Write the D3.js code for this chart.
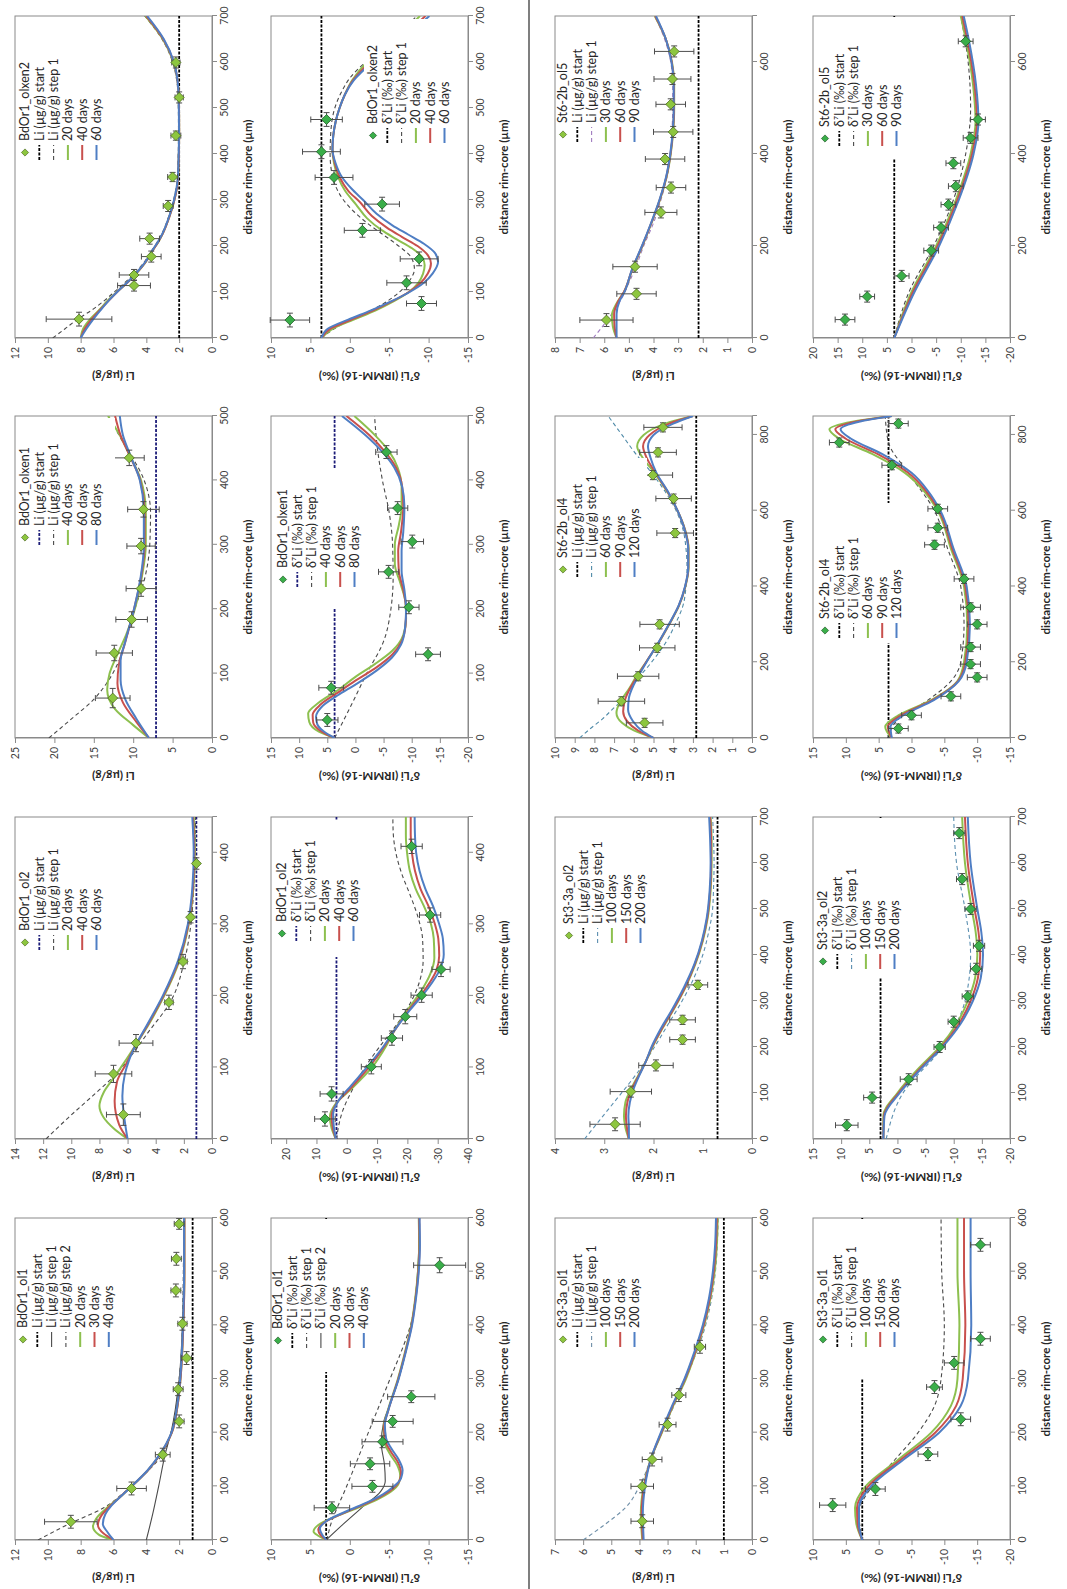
<!DOCTYPE html>
<html><head><meta charset="utf-8">
<script src="https://cdn.jsdelivr.net/npm/d3@7"></script>
<style>
body{margin:0;background:#fff}
text{font-family:Lato,"Liberation Sans",sans-serif}
</style>
</head><body>
<script>
// ---- measured points: [distance µm, value, value error, distance error] ----
// ---- model profiles: [distance µm, value] ----

// BdOr1_ol1 Li
const ol1LiPts = [[34,8.6,1.6,12],[96,4.9,0.9,12],[159,3.0,0.45,12],[221,2.0,0.3,12],[281,2.06,0.3,12],[339,1.55,0.3,12],[403,1.8,0.28,12],[465,2.2,0.3,12],[524,2.17,0.3,12],[589,2.0,0.3,10]];
const ol1LiStart = [[0,1.18],[600,1.18]];
const ol1LiStep1 = [[0,4.0],[50,3.6],[100,3.25],[160,2.85],[200,2.5],[300,2.0],[400,1.8],[500,1.72],[600,1.7]];
const ol1LiStep2 = [[0,10.6],[30,8.7],[60,6.6],[90,5.3],[120,4.2],[160,3.0],[200,2.5],[300,2.0],[400,1.8],[600,1.72]];
const ol1Li20 = [[0,6.0],[10,6.9],[25,7.25],[40,7.05],[60,6.4],[80,5.6],[100,4.9],[130,3.9],[160,3.15],[200,2.45],[250,2.1],[300,1.92],[400,1.75],[500,1.68],[600,1.68]];
const ol1Li30 = [[0,6.0],[12,6.6],[28,6.95],[45,6.75],[62,6.25],[80,5.6],[100,4.9],[130,3.9],[160,3.15],[200,2.45],[250,2.1],[300,1.92],[400,1.75],[500,1.68],[600,1.68]];
const ol1Li40 = [[0,6.0],[14,6.35],[30,6.65],[48,6.5],[65,6.1],[80,5.6],[100,4.9],[130,3.92],[160,3.17],[200,2.47],[250,2.12],[300,1.94],[400,1.77],[500,1.7],[600,1.7]];

// BdOr1_ol2 Li
const ol2LiPts = [[34,6.3,1.2,15],[91,7.0,1.3,12],[134,5.4,1.2,12],[191,3.06,0.3,10],[248,2.06,0.3,10],[310,1.52,0.15,8],[385,1.11,0.12,8]];
const ol2LiStart = [[0,1.11],[450,1.11]];
const ol2LiStep1 = [[0,11.8],[30,10.2],[60,8.5],[90,6.85],[120,5.6],[150,4.5],[190,3.0],[250,1.95],[300,1.5],[350,1.3],[400,1.2],[450,1.18]];
const ol2Li20 = [[0,6.0],[15,7.0],[30,7.7],[46,8.0],[65,7.7],[85,7.0],[105,6.3],[132,5.4],[160,4.5],[200,3.4],[250,2.3],[300,1.65],[350,1.33],[400,1.22],[450,1.3]];
const ol2Li40 = [[0,6.0],[20,6.6],[53,6.92],[80,6.75],[105,6.1],[132,5.4],[160,4.55],[200,3.45],[250,2.35],[300,1.68],[350,1.36],[400,1.26],[450,1.35]];
const ol2Li60 = [[0,6.0],[25,6.2],[60,6.37],[90,6.2],[110,5.9],[132,5.4],[160,4.6],[200,3.5],[250,2.4],[300,1.72],[350,1.4],[400,1.3],[450,1.4]];

// BdOr1_olxen1 Li
const xen1LiPts = [[62,12.6,2.2,15],[132,12.4,2.3,12],[184,10.2,2.0,12],[232,9.0,1.9,12],[298,9.0,1.8,12],[355,8.7,2.0,12],[435,10.5,1.9,12]];
const xen1LiStart = [[0,7.1],[500,7.1]];
const xen1LiStep1 = [[0,20.7],[30,17.8],[60,15.0],[90,13.1],[120,11.8],[150,11.0],[200,9.8],[250,8.5],[300,7.9],[350,7.8],[400,8.6],[440,10.3],[470,11.8],[500,13.0]];
const xen1Li40 = [[0,8.0],[20,10.0],[45,12.3],[75,13.3],[100,13.0],[130,12.0],[160,10.9],[200,9.8],[250,8.9],[300,8.4],[350,8.4],[400,9.0],[440,10.5],[470,11.7],[500,13.2]];
const xen1Li60 = [[0,8.0],[25,9.6],[55,11.3],[85,12.0],[115,11.8],[145,11.1],[200,9.9],[250,9.0],[300,8.55],[350,8.55],[400,9.1],[440,10.5],[470,11.6],[500,12.3]];
const xen1Li80 = [[0,8.0],[30,9.6],[60,11.0],[90,11.6],[120,11.6],[150,11.0],[200,9.9],[250,9.05],[300,8.65],[350,8.65],[400,9.15],[440,10.4],[470,11.3],[500,11.7]];

// BdOr1_olxen2 Li
const xen2LiPts = [[41,8.1,2.0,15],[114,4.75,1.0,12],[137,4.75,0.9,12],[177,3.7,0.6,12],[216,3.8,0.6,12],[287,2.67,0.3,12],[350,2.4,0.3,10],[440,2.2,0.3,10],[523,2.0,0.25,12],[599,2.2,0.25,12]];
const xen2LiStart = [[0,2.0],[700,2.0]];
const xen2LiStep1 = [[0,9.7],[20,8.95],[43,8.1],[60,7.35],[83,6.5],[100,5.95],[119,5.35],[155,4.35],[191,3.65],[227,3.05],[263,2.65],[299,2.35],[335,2.15],[372,2.08],[450,2.04],[520,2.06],[560,2.15],[600,2.4],[650,3.05],[700,4.1]];
const xen2Li20 = [[0,8.0],[20,7.85],[40,7.45],[60,6.9],[83,6.3],[100,5.8],[119,5.2],[137,4.7],[155,4.25],[175,3.85],[191,3.6],[210,3.25],[227,3.0],[263,2.6],[299,2.3],[335,2.1],[372,2.04],[450,2.0],[520,2.02],[560,2.1],[600,2.35],[650,3.0],[700,4.05]];
const xen2Li40 = [[0,8.0],[20,7.75],[40,7.35],[60,6.85],[83,6.25],[100,5.78],[119,5.2],[137,4.7],[155,4.26],[175,3.86],[191,3.6],[210,3.26],[227,3.0],[263,2.6],[299,2.3],[335,2.1],[372,2.04],[450,2.0],[520,2.02],[560,2.1],[600,2.33],[650,2.97],[700,4.0]];
const xen2Li60 = [[0,8.0],[20,7.65],[40,7.25],[60,6.8],[83,6.25],[100,5.78],[119,5.22],[137,4.72],[155,4.28],[175,3.88],[191,3.62],[210,3.28],[227,3.02],[263,2.62],[299,2.32],[335,2.12],[372,2.05],[450,2.01],[520,2.03],[560,2.1],[600,2.32],[650,2.94],[700,3.95]];

// BdOr1_ol1 d7Li
const ol1DPts = [[60,2.27,2.25,11],[100,-2.87,2.6,11],[142,-2.57,2.5,11],[183,-4.15,2.6,11],[221,-5.44,2.6,11],[267,-7.8,3.0,11],[512,-11.4,3.3,14]];
const ol1DStart = [[0,3.0],[600,3.0]];
const ol1DStep1 = [[0,2.9],[25,2.5],[100,0.4],[200,-2.35],[300,-5.1],[350,-6.5],[400,-7.7],[450,-8.35],[500,-8.65],[550,-8.8],[600,-8.86]];
const ol1DStep2 = [[0,3.0],[30,0.8],[60,-1.5],[90,-3.9],[110,-4.5],[140,-4.4],[180,-4.0],[220,-4.3],[260,-5.3],[300,-6.2],[350,-7.1],[400,-7.8],[450,-8.3],[500,-8.6],[550,-8.75],[600,-8.75]];
const ol1D20 = [[0,3.0],[8,4.0],[16,4.6],[28,4.0],[45,1.6],[60,-1.0],[75,-3.4],[90,-5.2],[105,-6.2],[120,-6.4],[140,-6.0],[160,-5.1],[183,-4.4],[210,-4.3],[240,-4.8],[300,-6.1],[350,-7.0],[400,-7.8],[450,-8.3],[500,-8.65],[550,-8.8],[600,-8.75]];
const ol1D30 = [[0,3.0],[9,3.7],[19,4.0],[32,3.3],[50,0.8],[65,-1.6],[80,-3.8],[95,-5.4],[110,-6.3],[125,-6.5],[145,-6.1],[165,-5.2],[185,-4.5],[210,-4.35],[240,-4.85],[300,-6.15],[350,-7.05],[400,-7.85],[450,-8.35],[500,-8.7],[550,-8.85],[600,-8.8]];
const ol1D40 = [[0,3.0],[10,3.5],[21,3.8],[35,3.0],[55,0.2],[70,-2.2],[85,-4.2],[100,-5.6],[115,-6.5],[130,-6.7],[150,-6.2],[170,-5.3],[190,-4.6],[215,-4.45],[245,-4.95],[300,-6.2],[350,-7.1],[400,-7.9],[450,-8.4],[500,-8.75],[550,-8.9],[600,-8.85]];

// BdOr1_ol2 d7Li
const ol2DPts = [[28,7.2,3.4,10],[63,5.0,3.8,10],[101,-8.1,3.3,10],[141,-14.9,3.5,10],[171,-19.3,3.8,10],[201,-24.7,3.5,10],[237,-31.1,3.0,10],[313,-27.5,3.5,10],[409,-21.4,3.5,10]];
const ol2DStart = [[0,3.4],[450,3.4]];
const ol2DStep1 = [[0,3.4],[40,1.3],[70,-2.0],[100,-6.0],[130,-11.0],[160,-16.5],[190,-21.0],[220,-24.0],[250,-25.2],[280,-25.0],[310,-23.5],[340,-21.0],[370,-18.2],[400,-16.2],[430,-15.3],[450,-15.2]];
const ol2D20 = [[0,3.6],[15,5.0],[30,5.6],[50,3.5],[70,-1.5],[100,-8.3],[130,-13.0],[150,-15.5],[180,-20.0],[210,-25.0],[230,-27.5],[253,-28.9],[280,-28.7],[300,-27.8],[325,-25.5],[350,-22.7],[375,-20.8],[400,-19.9],[425,-19.5],[450,-19.5]];
const ol2D40 = [[0,3.6],[15,4.6],[32,5.0],[52,3.0],[72,-1.5],[100,-7.3],[130,-12.5],[150,-15.5],[180,-20.5],[210,-26.0],[235,-29.5],[256,-30.5],[280,-30.2],[300,-29.1],[325,-27.0],[350,-24.3],[375,-22.5],[400,-21.5],[425,-21.1],[450,-21.1]];
const ol2D60 = [[0,3.6],[18,4.3],[35,4.5],[55,2.5],[75,-1.5],[100,-6.6],[130,-12.2],[150,-15.4],[180,-20.8],[210,-26.7],[235,-30.5],[258,-32.0],[280,-31.7],[300,-30.5],[325,-28.5],[350,-25.9],[375,-24.0],[400,-22.9],[425,-22.5],[450,-22.4]];

// BdOr1_olxen1 d7Li
const xen1DPts = [[28,5.0,1.9,10],[78,4.3,2.2,10],[130,-12.9,2.2,10],[203,-9.5,1.8,10],[258,-5.9,1.8,10],[305,-10.1,2.0,10],[357,-7.5,1.8,10],[444,-5.5,1.9,10]];
const xen1DStart = [[0,3.7],[500,3.7]];
const xen1DStep1 = [[0,3.7],[50,0.8],[100,-2.0],[150,-5.0],[200,-6.3],[250,-6.7],[300,-6.6],[350,-6.0],[400,-4.8],[450,-3.9],[500,-3.4]];
const xen1D40 = [[0,3.7],[10,6.5],[25,8.2],[38,8.4],[55,6.5],[75,3.0],[95,0],[115,-3.5],[135,-6.5],[160,-8.5],[185,-9.0],[210,-8.9],[240,-8.0],[270,-7.0],[300,-7.0],[330,-7.7],[360,-8.2],[390,-8.2],[420,-7.5],[445,-6.0],[470,-3.5],[500,0.2]];
const xen1D60 = [[0,3.7],[10,6.0],[24,7.5],[36,7.6],[52,6.2],[70,3.2],[89,0],[110,-3.8],[130,-6.6],[150,-8.2],[175,-8.9],[200,-9.0],[230,-8.5],[260,-7.7],[290,-7.6],[320,-8.1],[360,-8.5],[390,-8.3],[420,-7.2],[445,-5.2],[470,-2.5],[500,1.6]];
const xen1D80 = [[0,3.7],[10,5.6],[22,6.8],[33,7.0],[50,5.8],[66,3.2],[83,0],[105,-3.8],[125,-6.5],[145,-8.1],[170,-8.8],[200,-9.0],[230,-8.7],[260,-8.2],[290,-8.2],[320,-8.5],[360,-8.7],[390,-8.3],[420,-6.9],[445,-4.7],[470,-1.8],[500,2.4]];

// BdOr1_olxen2 d7Li
const xen2DPts = [[39,7.6,2.5,15],[75,-9.1,1.9,15],[120,-7.2,2.5,15],[172,-8.8,2.4,15],[234,-1.6,2.3,15],[291,-4.1,2.2,15],[349,2.0,2.4,15],[405,3.6,2.4,15],[475,2.95,2.0,15]];
const xen2DStart = [[0,3.6],[700,3.6]];
const xen2DStep1 = [[0,3.6],[25,1.5],[50,-1.5],[75,-4.3],[100,-6.3],[125,-7.6],[150,-8.2],[175,-7.8],[200,-6.2],[225,-4.2],[250,-2.2],[275,-0.5],[300,0.8],[330,1.8],[360,2.3],[400,2.5],[450,2.4],[500,1.9],[540,0.9],[565,0.0],[600,-2.0],[650,-5.5],[700,-8.5]];
const xen2D20 = [[0,3.6],[20,2.2],[40,-0.5],[60,-3.3],[80,-5.6],[100,-7.5],[120,-8.7],[140,-9.3],[158,-9.5],[175,-9.2],[195,-7.9],[215,-5.9],[235,-4.0],[260,-2.2],[290,-0.8],[320,0.6],[350,1.5],[380,2.0],[410,2.2],[440,2.1],[470,1.8],[500,1.3],[530,0.6],[560,-0.3],[600,-2.2],[650,-5.8],[700,-8.9]];
const xen2D40 = [[0,3.6],[20,2.5],[40,-0.2],[60,-3.0],[80,-5.4],[100,-7.5],[120,-9.0],[140,-9.9],[162,-10.3],[180,-9.9],[200,-8.6],[220,-6.6],[240,-4.7],[265,-2.8],[295,-1.3],[320,0.2],[350,1.3],[380,1.9],[410,2.2],[440,2.1],[470,1.8],[500,1.3],[530,0.6],[560,-0.4],[600,-2.6],[650,-6.3],[700,-9.6]];
const xen2D60 = [[0,3.6],[20,2.8],[40,0.2],[60,-2.7],[80,-5.3],[100,-7.6],[120,-9.4],[140,-10.5],[165,-11.2],[185,-10.8],[205,-9.4],[225,-7.4],[245,-5.4],[270,-3.4],[300,-1.7],[325,-0.2],[350,1.0],[380,1.8],[410,2.2],[440,2.1],[470,1.8],[500,1.3],[530,0.6],[560,-0.5],[600,-2.9],[650,-6.7],[700,-10.1]];

// St3-3a_ol1 Li
const st1LiPts = [[35,3.9,0.4,12],[100,3.9,0.4,12],[150,3.55,0.35,12],[215,3.0,0.3,12],[270,2.6,0.25,12],[360,1.85,0.2,12]];
const st1LiStart = [[0,1.0],[600,1.0]];
const st1LiStep1 = [[0,6.0],[30,5.2],[60,4.5],[100,4.0],[150,3.6],[200,3.2],[300,2.35],[400,1.65],[500,1.3],[600,1.2]];
const st1Li100 = [[0,3.9],[50,3.95],[100,3.85],[150,3.6],[200,3.2],[250,2.8],[300,2.35],[350,2.0],[400,1.7],[450,1.48],[500,1.33],[550,1.25],[600,1.22]];
const st1Li150 = [[0,3.88],[50,3.92],[100,3.83],[150,3.6],[200,3.22],[250,2.82],[300,2.38],[350,2.02],[400,1.72],[450,1.5],[500,1.36],[550,1.28],[600,1.25]];
const st1Li200 = [[0,3.85],[50,3.88],[100,3.8],[150,3.6],[200,3.24],[250,2.84],[300,2.4],[350,2.05],[400,1.75],[450,1.53],[500,1.39],[550,1.31],[600,1.28]];

// St3-3a_ol2 Li
const st2LiPts = [[32,2.78,0.51,14],[103,2.46,0.42,12],[160,1.95,0.35,12],[216,1.41,0.26,10],[259,1.41,0.26,10],[335,1.1,0.2,10]];
const st2LiStart = [[0,0.7],[700,0.7]];
const st2LiStep1 = [[0,3.4],[40,3.1],[80,2.8],[120,2.5],[160,2.22],[200,1.98],[250,1.7],[300,1.42],[350,1.18],[400,1.0],[450,0.88],[500,0.8],[550,0.78],[600,0.77],[650,0.78],[700,0.8]];
const st2Li100 = [[0,2.5],[25,2.57],[50,2.6],[80,2.57],[110,2.45],[140,2.3],[170,2.15],[200,2.02],[240,1.82],[280,1.6],[330,1.35],[380,1.15],[430,1.0],[480,0.9],[540,0.84],[600,0.82],[650,0.82],[700,0.84]];
const st2Li150 = [[0,2.5],[25,2.54],[50,2.56],[80,2.53],[110,2.43],[140,2.29],[170,2.15],[200,2.03],[240,1.83],[280,1.61],[330,1.36],[380,1.16],[430,1.01],[480,0.91],[540,0.85],[600,0.83],[650,0.83],[700,0.85]];
const st2Li200 = [[0,2.5],[25,2.5],[50,2.51],[80,2.48],[110,2.4],[140,2.28],[170,2.15],[200,2.04],[240,1.85],[280,1.63],[330,1.38],[380,1.17],[430,1.02],[480,0.92],[540,0.86],[600,0.84],[650,0.85],[700,0.87]];

// St6-2b_ol4 Li
const st4LiPts = [[40,5.45,0.93,12],[97,6.63,1.18,12],[163,5.78,1.05,12],[238,4.81,0.9,12],[300,4.69,1.0,12],[541,3.9,0.93,12],[632,3.98,0.9,12],[694,5.03,1.0,12],[754,4.77,0.93,12],[820,4.52,0.97,12]];
const st4LiStart = [[0,2.83],[850,2.83]];
const st4LiStep1 = [[0,8.75],[25,8.2],[50,7.6],[75,7.1],[100,6.6],[150,5.9],[200,5.1],[250,4.4],[300,3.9],[350,3.5],[400,3.35],[450,3.3],[500,3.35],[550,3.5],[600,3.85],[650,4.4],[700,5.1],[750,5.9],[800,6.6],[850,7.3]];
const st4Li60 = [[0,5.0],[20,6.0],[40,6.6],[66,6.88],[95,6.7],[125,6.3],[160,5.9],[200,5.38],[250,4.75],[300,4.2],[350,3.7],[400,3.38],[450,3.22],[500,3.22],[550,3.4],[600,3.78],[650,4.3],[700,4.95],[740,5.55],[770,5.83],[800,5.5],[830,4.4],[850,3.0]];
const st4Li90 = [[0,5.0],[20,5.8],[45,6.35],[70,6.54],[100,6.45],[130,6.2],[160,5.85],[200,5.38],[250,4.76],[300,4.21],[350,3.71],[400,3.39],[450,3.23],[500,3.23],[550,3.41],[600,3.78],[650,4.28],[700,4.9],[740,5.35],[770,5.53],[800,5.2],[830,4.2],[850,3.0]];
const st4Li120 = [[0,5.0],[20,5.6],[45,6.05],[75,6.29],[105,6.25],[135,6.05],[165,5.75],[200,5.36],[250,4.77],[300,4.22],[350,3.72],[400,3.4],[450,3.24],[500,3.24],[550,3.42],[600,3.78],[650,4.26],[700,4.85],[740,5.15],[770,5.28],[800,5.0],[830,4.0],[850,3.0]];

// St6-2b_ol5 Li
const st5LiPts = [[39,5.91,1.08,14],[96,4.69,0.8,12],[155,4.75,0.9,12],[273,3.7,0.65,12],[327,3.29,0.6,12],[389,3.53,0.8,12],[448,3.2,0.8,12],[508,3.3,0.6,12],[563,3.23,0.75,12],[623,3.16,0.8,12]];
const st5LiStart = [[0,2.17],[700,2.17]];
const st5LiStep1 = [[0,6.45],[30,6.0],[60,5.6],[90,5.25],[120,5.0],[150,4.75],[200,4.4],[250,4.0],[300,3.7],[350,3.45],[400,3.3],[450,3.25],[500,3.22],[550,3.22],[600,3.3],[650,3.55],[700,3.95]];
const st5Li30 = [[0,5.5],[25,5.65],[49,5.69],[75,5.5],[100,5.2],[150,4.85],[200,4.45],[250,4.08],[300,3.74],[350,3.47],[400,3.3],[450,3.2],[500,3.16],[550,3.16],[600,3.25],[650,3.5],[700,3.95]];
const st5Li60 = [[0,5.5],[25,5.58],[52,5.6],[78,5.45],[100,5.2],[150,4.86],[200,4.46],[250,4.09],[300,3.75],[350,3.48],[400,3.31],[450,3.21],[500,3.17],[550,3.17],[600,3.26],[650,3.5],[700,3.93]];
const st5Li90 = [[0,5.5],[25,5.5],[52,5.5],[80,5.38],[100,5.18],[150,4.87],[200,4.47],[250,4.1],[300,3.76],[350,3.49],[400,3.32],[450,3.22],[500,3.18],[550,3.18],[600,3.27],[650,3.5],[700,3.9]];

// St3-3a_ol1 d7Li
const st1DPts = [[65,7.0,2.0,12],[95,0.5,1.5,12],[160,-7.5,1.5,12],[225,-12.5,1.5,12],[285,-8.5,1.2,12],[330,-11.5,1.5,12],[375,-15.5,1.5,12],[550,-15.5,1.5,12]];
const st1DStart = [[0,2.5],[600,2.5]];
const st1DStep1 = [[0,2.5],[50,3.0],[100,1.0],[150,-2.5],[200,-6.0],[250,-8.5],[300,-9.5],[400,-10.0],[500,-9.6],[600,-9.5]];
const st1D100 = [[0,2.5],[30,3.4],[60,3.6],[100,2.0],[150,-3.0],[200,-8.0],[250,-11.0],[300,-12.0],[400,-12.3],[500,-12.0],[600,-12.0]];
const st1D150 = [[0,2.5],[30,3.2],[60,3.3],[100,1.6],[150,-3.4],[200,-8.6],[250,-11.8],[300,-12.8],[400,-13.2],[500,-13.0],[600,-13.0]];
const st1D200 = [[0,2.5],[30,3.0],[60,3.0],[100,1.2],[150,-3.8],[200,-9.2],[250,-12.5],[300,-13.6],[400,-14.1],[500,-14.0],[600,-14.0]];

// St3-3a_ol2 d7Li
const st2DPts = [[30,9.0,2.0,12],[90,4.5,1.5,12],[130,-2.0,1.5,12],[200,-7.5,1.0,12],[255,-10.0,1.0,12],[310,-12.5,1.0,12],[370,-14.0,1.0,12],[420,-14.5,1.0,12],[500,-13.0,1.0,12],[565,-11.5,1.0,12],[665,-11.0,1.0,12]];
const st2DStart = [[0,3.0],[700,3.0]];
const st2DStep1 = [[0,2.0],[100,-1.0],[200,-8.0],[300,-12.0],[400,-13.0],[500,-12.0],[600,-10.5],[700,-10.0]];
const st2D100 = [[0,2.5],[50,2.5],[100,0],[150,-3.5],[200,-7.5],[250,-10.5],[300,-12.5],[350,-13.8],[400,-14.2],[450,-13.9],[500,-13.2],[600,-12.0],[700,-11.5]];
const st2D150 = [[0,2.5],[50,2.4],[100,-0.2],[150,-3.8],[200,-7.8],[250,-10.9],[300,-13.0],[350,-14.3],[400,-14.7],[450,-14.4],[500,-13.7],[600,-12.5],[700,-12.0]];
const st2D200 = [[0,2.5],[50,2.3],[100,-0.4],[150,-4.0],[200,-8.0],[250,-11.2],[300,-13.4],[350,-14.8],[400,-15.2],[450,-14.9],[500,-14.2],[600,-13.0],[700,-12.5]];

// St6-2b_ol4 d7Li
const st4DPts = [[25,2.0,1.5,12],[60,0,1.5,12],[110,-6.0,1.5,12],[160,-10.0,1.5,12],[195,-9.0,1.5,12],[240,-9.0,1.5,12],[300,-10.0,1.5,12],[345,-9.0,1.5,12],[420,-8.0,1.5,12],[510,-3.5,1.5,12],[555,-4.0,1.5,12],[605,-4.0,1.5,12],[720,3.0,1.5,12],[780,11.0,1.5,12],[830,2.0,1.5,12]];
const st4DStart = [[0,3.5],[850,3.5]];
const st4DStep1 = [[0,3.5],[50,2.0],[100,-2.5],[150,-6.0],[200,-7.5],[300,-8.0],[400,-7.5],[500,-5.5],[600,-3.5],[700,0.5],[780,3.5],[850,4.0]];
const st4D60 = [[0,3.0],[30,4.0],[60,2.0],[100,-3.0],[150,-7.0],[200,-8.0],[300,-8.5],[400,-8.0],[500,-6.0],[600,-4.0],[650,-2.0],[700,1.0],[750,6.0],[790,11.0],[815,12.5],[835,9.0],[850,3.0]];
const st4D90 = [[0,3.0],[30,3.6],[60,1.6],[100,-3.2],[150,-7.1],[200,-8.2],[300,-8.7],[400,-8.2],[500,-6.2],[600,-4.2],[650,-2.3],[700,0.5],[750,5.2],[790,10.0],[815,11.6],[835,8.5],[850,3.0]];
const st4D120 = [[0,3.0],[30,3.2],[60,1.2],[100,-3.4],[150,-7.2],[200,-8.4],[300,-8.9],[400,-8.4],[500,-6.4],[600,-4.4],[650,-2.6],[700,0.0],[750,4.5],[790,9.2],[815,10.8],[835,8.0],[850,3.0]];

// St6-2b_ol5 d7Li
const st5DPts = [[40,13.5,2.0,12],[90,9.0,1.5,12],[135,2.0,1.5,12],[190,-4.0,1.5,12],[240,-6.0,1.5,12],[290,-7.5,1.5,12],[330,-9.0,1.5,12],[380,-8.5,1.5,12],[435,-12.0,1.5,12],[475,-13.5,1.5,12],[645,-11.0,1.5,12]];
const st5DStart = [[0,3.5],[700,3.5]];
const st5DStep1 = [[0,3.5],[100,0.5],[200,-4.5],[300,-8.5],[400,-11.0],[500,-12.0],[600,-11.5],[700,-10.0]];
const st5D30 = [[0,3.5],[100,0],[200,-5.0],[300,-9.0],[400,-12.0],[470,-13.0],[550,-12.5],[650,-11.0],[700,-10.0]];
const st5D60 = [[0,3.5],[100,-0.3],[200,-5.3],[300,-9.3],[400,-12.3],[470,-13.3],[550,-12.8],[650,-11.3],[700,-10.3]];
const st5D90 = [[0,3.5],[100,-0.6],[200,-5.6],[300,-9.6],[400,-12.6],[470,-13.6],[550,-13.1],[650,-11.6],[700,-10.6]];

// ---- chart layout (landscape figure, turned a quarter turn for the page) ----
const PAGE_W = 1067, PAGE_H = 1589;
const W = 322, H = 197;
const COLX = [49, 450, 851, 1251];
const ROWY = [15, 271, 555, 813];
const GREEN = "#8DC04F", RED = "#C8504D", BLUE = "#4F7EC4";
const NAVY = "#1c1c78", DARK = "#4a4a4a";
const TICK_FONT = "10.5px", TITLE_FONT = "11.5px", LEGEND_FONT = "12.5px", LEGEND_ROW = 14.3;

const LI = "Li (µg/g)";
const DL = "δ⁷Li (‰)";

const panels = [
  {col:0,row:0,name:"BdOr1_ol1",kind:"Li",xMax:600,xStep:100,yMin:0,yMax:12,yStep:2,pts:ol1LiPts,start:ol1LiStart,startColor:"#000",
   steps:[{d:ol1LiStep1,dash:null,label:LI+" step 1"},{d:ol1LiStep2,dash:"4,3",label:LI+" step 2"}],
   curves:[ol1Li20,ol1Li30,ol1Li40],days:["20 days","30 days","40 days"],leg:{sx:193,ry:8,box:[186,1,320,112]}},
  {col:1,row:0,name:"BdOr1_ol2",kind:"Li",xMax:450,xStep:100,yMin:0,yMax:14,yStep:2,pts:ol2LiPts,start:ol2LiStart,startColor:NAVY,
   steps:[{d:ol2LiStep1,dash:"4,3",label:LI+" step 1"}],
   curves:[ol2Li20,ol2Li40,ol2Li60],days:["20 days","40 days","60 days"],leg:{sx:189,ry:10,box:[182,1,320,100]}},
  {col:2,row:0,name:"BdOr1_olxen1",kind:"Li",xMax:500,xStep:100,yMin:0,yMax:25,yStep:5,pts:xen1LiPts,start:xen1LiStart,startColor:NAVY,
   steps:[{d:xen1LiStep1,dash:"4,3",label:LI+" step 1"}],
   curves:[xen1Li40,xen1Li60,xen1Li80],days:["40 days","60 days","80 days"],leg:{sx:193,ry:10,box:[186,1,320,100]}},
  {col:3,row:0,name:"BdOr1_olxen2",kind:"Li",xMax:700,xStep:100,yMin:0,yMax:12,yStep:2,pts:xen2LiPts,start:xen2LiStart,startColor:"#000",
   steps:[{d:xen2LiStep1,dash:"4,3",label:LI+" step 1"}],
   curves:[xen2Li20,xen2Li40,xen2Li60],days:["20 days","40 days","60 days"],leg:{sx:178,ry:10,box:[172,1,300,100]}},

  {col:0,row:1,name:"BdOr1_ol1",kind:"D",xMax:600,xStep:100,yMin:-15,yMax:10,yStep:5,pts:ol1DPts,start:ol1DStart,startColor:"#000",
   steps:[{d:ol1DStep1,dash:"4,3",label:DL+" step 1"},{d:ol1DStep2,dash:null,label:DL+" step 2"}],
   curves:[ol1D20,ol1D30,ol1D40],days:["20 days","30 days","40 days"],leg:{sx:192,ry:7,box:[168,1,321,108]}},
  {col:1,row:1,name:"BdOr1_ol2",kind:"D",xMax:450,xStep:100,yMin:-40,yMax:25,yStep:10,pts:ol2DPts,start:ol2DStart,startColor:NAVY,
   steps:[{d:ol2DStep1,dash:"4,3",label:DL+" step 1"}],
   curves:[ol2D20,ol2D40,ol2D60],days:["20 days","40 days","60 days"],leg:{sx:198,ry:11,box:[182,1,318,96]}},
  {col:2,row:1,name:"BdOr1_olxen1",kind:"D",xMax:500,xStep:100,yMin:-20,yMax:15,yStep:5,pts:xen1DPts,start:xen1DStart,startColor:NAVY,
   steps:[{d:xen1DStep1,dash:"4,3",label:DL+" step 1"}],
   curves:[xen1D40,xen1D60,xen1D80],days:["40 days","60 days","80 days"],leg:{sx:151,ry:12,box:[129,1,270,96]}},
  {col:3,row:1,name:"BdOr1_olxen2",kind:"D",xMax:700,xStep:100,yMin:-15,yMax:10,yStep:5,pts:xen2DPts,start:xen2DStart,startColor:"#000",
   steps:[{d:xen2DStep1,dash:"4,3",label:DL+" step 1"}],
   curves:[xen2D20,xen2D40,xen2D60],days:["20 days","40 days","60 days"],leg:{sx:195,ry:102,box:[188,93,319,182]}},

  {col:0,row:2,name:"St3-3a_ol1",kind:"Li",xMax:600,xStep:100,yMin:0,yMax:7,yStep:1,pts:st1LiPts,start:st1LiStart,startColor:"#000",
   steps:[{d:st1LiStep1,dash:"4,3",label:LI+" step 1",color:"#6f8fa8"}],
   curves:[st1Li100,st1Li150,st1Li200],days:["100 days","150 days","200 days"],leg:{sx:193,ry:8,box:[186,1,320,100]}},
  {col:1,row:2,name:"St3-3a_ol2",kind:"Li",xMax:700,xStep:100,yMin:0,yMax:4,yStep:1,pts:st2LiPts,start:st2LiStart,startColor:"#000",
   steps:[{d:st2LiStep1,dash:"4,3",label:LI+" step 1",color:"#5b8fb0"}],
   curves:[st2Li100,st2Li150,st2Li200],days:["100 days","150 days","200 days"],leg:{sx:196,ry:14,box:[190,4,320,104]}},
  {col:2,row:2,name:"St6-2b_ol4",kind:"Li",xMax:850,xStep:200,yMin:0,yMax:10,yStep:1,pts:st4LiPts,start:st4LiStart,startColor:"#000",
   steps:[{d:st4LiStep1,dash:"4,3",label:LI+" step 1",color:"#4f8aa8"}],
   curves:[st4Li60,st4Li90,st4Li120],days:["60 days","90 days","120 days"],leg:{sx:161,ry:8,box:[155,1,280,92]}},
  {col:3,row:2,name:"St6-2b_ol5",kind:"Li",xMax:700,xStep:200,yMin:0,yMax:8,yStep:1,pts:st5LiPts,start:st5LiStart,startColor:"#000",
   steps:[{d:st5LiStep1,dash:"4,3",label:LI+" step 1",color:"#a07cc0"}],
   curves:[st5Li30,st5Li60,st5Li90],days:["30 days","60 days","90 days"],leg:{sx:196,ry:8,box:[190,1,320,92]}},

  {col:0,row:3,name:"St3-3a_ol1",kind:"D",xMax:600,xStep:100,yMin:-20,yMax:10,yStep:5,pts:st1DPts,start:st1DStart,startColor:"#000",
   steps:[{d:st1DStep1,dash:"4,3",label:DL+" step 1"}],
   curves:[st1D100,st1D150,st1D200],days:["100 days","150 days","200 days"],leg:{sx:193,ry:10,box:[162,1,321,100]}},
  {col:1,row:3,name:"St3-3a_ol2",kind:"D",xMax:700,xStep:100,yMin:-20,yMax:15,yStep:5,pts:st2DPts,start:st2DStart,startColor:"#000",
   steps:[{d:st2DStep1,dash:"4,3",label:DL+" step 1",color:"#5b8fb0"}],
   curves:[st2D100,st2D150,st2D200],days:["100 days","150 days","200 days"],leg:{sx:170,ry:10,box:[161,1,321,100]}},
  {col:2,row:3,name:"St6-2b_ol4",kind:"D",xMax:850,xStep:200,yMin:-15,yMax:15,yStep:5,pts:st4DPts,start:st4DStart,startColor:"#000",
   steps:[{d:st4DStep1,dash:"4,3",label:DL+" step 1"}],
   curves:[st4D60,st4D90,st4D120],days:["60 days","90 days","120 days"],leg:{sx:100,ry:12,box:[95,1,235,100]}},
  {col:3,row:3,name:"St6-2b_ol5",kind:"D",xMax:700,xStep:200,yMin:-20,yMax:20,yStep:5,pts:st5DPts,start:st5DStart,startColor:"#000",
   steps:[{d:st5DStep1,dash:"4,3",label:DL+" step 1"}],
   curves:[st5D30,st5D60,st5D90],days:["30 days","60 days","90 days"],leg:{sx:192,ry:12,box:[179,1,321,100]}}
];

const svg = d3.select("body").append("svg").attr("width", PAGE_W).attr("height", PAGE_H);
svg.append("rect").attr("width", PAGE_W).attr("height", PAGE_H).attr("fill", "#fff");
// the whole figure is laid out in landscape and turned counter-clockwise
const root = svg.append("g").attr("transform", `translate(0,${PAGE_H}) rotate(-90)`);

// separator between the two sample groups
root.append("line").attr("x1", 0).attr("x2", PAGE_H).attr("y1", 529).attr("y2", 529)
  .attr("stroke", "#555").attr("stroke-width", 1.5);

function diamond(r) { return `M0,${-r}L${r},0L0,${r}L${-r},0Z`; }

function drawPanel(p, idx) {
  const g = root.append("g").attr("transform", `translate(${COLX[p.col]},${ROWY[p.row]})`);
  const x = d3.scaleLinear().domain([0, p.xMax]).range([0, W]);
  const y = d3.scaleLinear().domain([p.yMin, p.yMax]).range([H, 0]);
  const clipId = "clip" + idx;
  g.append("clipPath").attr("id", clipId).append("rect").attr("width", W).attr("height", H);

  g.append("rect").attr("width", W).attr("height", H).attr("fill", "none").attr("stroke", "#8a8a8a");

  const xa = g.append("g").attr("transform", `translate(0,${H})`)
    .call(d3.axisBottom(x).tickValues(d3.range(0, p.xMax + 1, p.xStep)).tickSize(5).tickPadding(4).tickFormat(d => String(d)));
  const ya = g.append("g")
    .call(d3.axisLeft(y).tickValues(d3.range(p.yMin, p.yMax + 0.001, p.yStep).filter(v => v <= p.yMax)).tickSize(5).tickPadding(4).tickFormat(d => String(d)));
  [xa, ya].forEach(a => {
    a.selectAll("path,line").attr("stroke", "#8a8a8a");
    a.selectAll("text").attr("font-size", TICK_FONT).attr("fill", "#404040").attr("font-family", "Lato");
  });

  g.append("text").attr("x", W / 2).attr("y", H + 40).attr("text-anchor", "middle")
    .attr("font-size", TITLE_FONT).attr("font-weight", "bold").attr("fill", "#262626")
    .text("distance rim-core (µm)");
  g.append("text").attr("transform", `translate(-38,${H / 2}) rotate(-90)`).attr("text-anchor", "middle")
    .attr("dy", "0.35em").attr("font-size", TITLE_FONT).attr("font-weight", "bold").attr("fill", "#262626")
    .text(p.kind === "Li" ? "Li (µg/g)" : "δ⁷Li (IRMM-16) (‰)");

  const line = d3.line().x(d => x(d[0])).y(d => y(d[1])).curve(d3.curveMonotoneX);
  const flat = d3.line().x(d => x(d[0])).y(d => y(d[1]));
  const plot = g.append("g").attr("clip-path", `url(#${clipId})`);

  plot.append("path").attr("d", flat(p.start)).attr("fill", "none")
    .attr("stroke", p.startColor).attr("stroke-width", 1.8).attr("stroke-dasharray", "3,1.5");
  p.steps.forEach(s => {
    plot.append("path").attr("d", line(s.d)).attr("fill", "none")
      .attr("stroke", s.color || DARK).attr("stroke-width", 1.1)
      .attr("stroke-dasharray", s.dash);
  });
  [GREEN, RED, BLUE].forEach((c, i) => {
    plot.append("path").attr("d", line(p.curves[i])).attr("fill", "none")
      .attr("stroke", c).attr("stroke-width", 2);
  });

  // measured points with error bars
  const fill = p.kind === "Li" ? "#8DC63F" : "#3AAE49";
  const edge = p.kind === "Li" ? "#4d6b1f" : "#1f5a26";
  const pg = g.append("g");
  p.pts.forEach(d => {
    const cx = x(d[0]), cy = y(d[1]);
    const y0 = y(d[1] - d[2]), y1 = y(d[1] + d[2]);
    const x0 = x(d[0] - d[3]), x1 = x(d[0] + d[3]);
    const eb = pg.append("g").attr("stroke", "#4d4d4d").attr("stroke-width", 1);
    eb.append("line").attr("x1", cx).attr("x2", cx).attr("y1", y0).attr("y2", y1);
    eb.append("line").attr("x1", cx - 3).attr("x2", cx + 3).attr("y1", y0).attr("y2", y0);
    eb.append("line").attr("x1", cx - 3).attr("x2", cx + 3).attr("y1", y1).attr("y2", y1);
    eb.append("line").attr("x1", x0).attr("x2", x1).attr("y1", cy).attr("y2", cy);
    eb.append("line").attr("x1", x0).attr("x2", x0).attr("y1", cy - 3).attr("y2", cy + 3);
    eb.append("line").attr("x1", x1).attr("x2", x1).attr("y1", cy - 3).attr("y2", cy + 3);
    pg.append("path").attr("d", diamond(5)).attr("transform", `translate(${cx},${cy})`)
      .attr("fill", fill).attr("stroke", edge).attr("stroke-width", 0.8);
  });

  // legend
  const L = p.leg;
  const lg = g.append("g");
  lg.append("rect").attr("x", L.box[0]).attr("y", L.box[1]).attr("width", L.box[2] - L.box[0])
    .attr("height", L.box[3] - L.box[1]).attr("fill", "#fff");
  const stem = p.kind === "Li" ? LI : DL;
  const rows = [{type: "pt", label: p.name}, {type: "ln", label: stem + " start", color: p.startColor, w: 1.8, dash: "3,1.5"}];
  p.steps.forEach(s => rows.push({type: "ln", label: s.label, color: s.color || DARK, w: 1.1, dash: s.dash}));
  [GREEN, RED, BLUE].forEach((c, i) => rows.push({type: "ln", label: p.days[i], color: c, w: 2, dash: null}));
  rows.forEach((r, i) => {
    const cy = L.ry + i * LEGEND_ROW;
    if (r.type === "pt") {
      lg.append("path").attr("d", diamond(3.6)).attr("transform", `translate(${L.sx + 7.5},${cy})`)
        .attr("fill", fill).attr("stroke", edge).attr("stroke-width", 0.7);
    } else {
      lg.append("line").attr("x1", L.sx).attr("x2", L.sx + 15).attr("y1", cy).attr("y2", cy)
        .attr("stroke", r.color).attr("stroke-width", r.w).attr("stroke-dasharray", r.dash);
    }
    lg.append("text").attr("x", L.sx + 19).attr("y", cy).attr("dy", "0.35em")
      .attr("font-size", LEGEND_FONT).attr("fill", "#262626").text(r.label);
  });
}

panels.forEach(drawPanel);
</script>
</body></html>
